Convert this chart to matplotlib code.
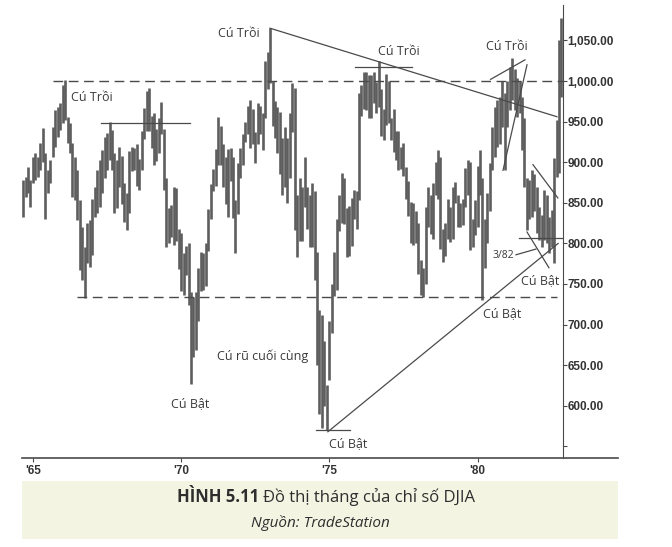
import numpy as np
import matplotlib.pyplot as plt
from matplotlib.patches import Rectangle

# monthly DJIA bars, Sep 1964 .. Nov 1982
start = 1964 + 8 / 12

highs_1964 = [878, 882, 894, 878]
lows_1964 = [833, 857, 862, 845]
highs_1965 = [906, 911, 906, 924, 942, 911, 890, 903, 943, 964, 968, 973]
lows_1965 = [874, 878, 882, 890, 900, 830, 862, 874, 906, 919, 931, 940]
highs_1966 = [995, 1001, 956, 948, 924, 906, 890, 853, 820, 796, 825, 829]
lows_1966 = [948, 952, 924, 911, 857, 853, 829, 767, 755, 733, 776, 771]
highs_1967 = [855, 869, 890, 903, 915, 931, 936, 950, 940, 911, 903, 919]
lows_1967 = [786, 833, 837, 845, 862, 880, 890, 903, 890, 837, 843, 869]
highs_1968 = [908, 874, 862, 914, 919, 917, 923, 904, 938, 967, 988, 991]
lows_1968 = [849, 826, 817, 838, 889, 891, 871, 866, 890, 929, 938, 938]
highs_1969 = [957, 960, 941, 955, 974, 941, 880, 844, 847, 870, 868, 818]
lows_1969 = [917, 897, 902, 911, 935, 866, 795, 800, 808, 798, 803, 769]
highs_1970 = [813, 788, 797, 801, 740, 734, 740, 770, 790, 788, 801, 842]
lows_1970 = [741, 737, 761, 724, 627, 660, 669, 705, 741, 742, 748, 791]
highs_1971 = [873, 892, 916, 956, 944, 923, 907, 916, 917, 907, 853, 899]
lows_1971 = [830, 865, 871, 897, 897, 869, 849, 833, 877, 831, 788, 836]
highs_1972 = [917, 935, 950, 969, 977, 966, 937, 973, 969, 961, 1025, 1036]
lows_1972 = [881, 896, 925, 935, 917, 923, 899, 922, 935, 915, 955, 990]
highs_1973 = [1065, 1000, 975, 968, 962, 930, 943, 930, 960, 997, 991, 860]
lows_1973 = [997, 944, 930, 911, 886, 859, 870, 850, 880, 937, 817, 783]
highs_1974 = [880, 870, 906, 870, 860, 874, 865, 790, 718, 712, 680, 625]
lows_1974 = [803, 803, 845, 818, 795, 795, 755, 650, 590, 573, 600, 570]
highs_1975 = [705, 750, 790, 830, 860, 887, 880, 843, 846, 856, 866, 864]
lows_1975 = [632, 690, 735, 742, 815, 825, 824, 783, 784, 797, 830, 818]
highs_1976 = [985, 995, 1011, 1011, 1008, 1008, 1011, 999, 1025, 990, 966, 1009]
lows_1976 = [853, 957, 965, 964, 955, 954, 973, 960, 968, 932, 927, 946]
highs_1977 = [1000, 955, 966, 938, 938, 919, 924, 894, 877, 851, 850, 840]
lows_1977 = [948, 927, 912, 903, 890, 892, 883, 855, 834, 800, 798, 800]
highs_1978 = [825, 780, 770, 845, 870, 860, 874, 900, 915, 907, 818, 825]
lows_1978 = [762, 737, 734, 750, 820, 812, 805, 860, 855, 793, 777, 785]
highs_1979 = [855, 845, 870, 875, 860, 850, 855, 893, 903, 900, 830, 853]
lows_1979 = [805, 802, 805, 850, 820, 820, 823, 845, 860, 792, 795, 810]
highs_1980 = [895, 915, 880, 830, 862, 899, 943, 968, 977, 980, 1000, 985]
lows_1980 = [820, 860, 730, 770, 800, 840, 890, 906, 919, 923, 943, 890]
highs_1981 = [1000, 1017, 1028, 1015, 1004, 1000, 980, 955, 880, 878, 890, 886]
lows_1981 = [943, 964, 977, 964, 956, 960, 915, 870, 817, 830, 833, 840]
highs_1982 = [870, 845, 835, 866, 860, 833, 841, 905, 952, 1050, 1077]
lows_1982 = [813, 804, 795, 804, 800, 788, 796, 776, 882, 887, 980]

highs = (highs_1964 + highs_1965 + highs_1966 + highs_1967 + highs_1968 + highs_1969
         + highs_1970 + highs_1971 + highs_1972 + highs_1973 + highs_1974 + highs_1975
         + highs_1976 + highs_1977 + highs_1978 + highs_1979 + highs_1980 + highs_1981
         + highs_1982)
lows = (lows_1964 + lows_1965 + lows_1966 + lows_1967 + lows_1968 + lows_1969
        + lows_1970 + lows_1971 + lows_1972 + lows_1973 + lows_1974 + lows_1975
        + lows_1976 + lows_1977 + lows_1978 + lows_1979 + lows_1980 + lows_1981
        + lows_1982)

year_ticks = [1965, 1970, 1975, 1980]
year_labels = ["'65", "'70", "'75", "'80"]
price_ticks = [550, 600, 650, 700, 750, 800, 850, 900, 950, 1000, 1050]

x = start + np.arange(len(highs)) / 12

ink = '#4a4a4a'
fig = plt.figure(figsize=(6.72, 5.47), dpi=100)
ax = fig.add_axes([22 / 672, 89 / 547, 596 / 672, 453 / 547])
ax.set_xlim(1964.63, 1984.74)
ax.set_ylim(535.7, 1093.6)

ax.vlines(x, lows, highs, color='#5e5e5e', lw=1.9)

# support / resistance levels
ax.plot([1965.67, 1982.88], [1000, 1000], color=ink, lw=1.0, dashes=(7, 4))
ax.plot([1966.48, 1982.68], [734, 734], color=ink, lw=1.0, dashes=(7, 4))
ax.plot([1967.29, 1970.30], [948, 948], color=ink, lw=0.9)
ax.plot([1975.86, 1977.79], [1017, 1017], color=ink, lw=0.9)
ax.plot([1974.55, 1975.70], [570, 570], color=ink, lw=0.9)
ax.plot([1981.40, 1982.85], [807, 807], color=ink, lw=0.9)

# trend lines
ax.plot([1973.0, 1982.68], [1065, 956], color=ink, lw=0.9)
ax.plot([1974.95, 1982.72], [568, 800], color=ink, lw=0.9)
ax.plot([1980.44, 1981.60], [1002, 1026], color=ink, lw=0.9)
ax.plot([1980.86, 1981.67], [890, 1020], color=ink, lw=0.9)
ax.plot([1981.87, 1982.71], [897, 856], color=ink, lw=0.9)
ax.plot([1981.67, 1982.41], [814, 770], color=ink, lw=0.9)
ax.plot([1981.30, 1981.97], [786, 793], color=ink, lw=0.9)

lab = dict(fontfamily='Open Sans', fontsize=9, color='#3a3a3a', ha='center', va='center')
ax.text(1971.95, 1058, 'Cú Trồi', **lab)
ax.text(1966.99, 980, 'Cú Trồi', **lab)
ax.text(1977.35, 1036, 'Cú Trồi', **lab)
ax.text(1980.99, 1042, 'Cú Trồi', **lab)
ax.text(1970.30, 603, 'Cú Bật', **lab)
ax.text(1972.76, 661, 'Cú rũ cuối cùng', **lab)
ax.text(1975.63, 553, 'Cú Bật', **lab)
ax.text(1980.82, 713, 'Cú Bật', **lab)
ax.text(1982.10, 754, 'Cú Bật', **lab)
ax.text(1980.86, 785, '3/82', fontfamily='Open Sans', fontsize=7.5, color='#3a3a3a',
        ha='center', va='center')

for s in ['top', 'left']:
    ax.spines[s].set_visible(False)
ax.spines['right'].set_position(('data', 1982.88))
ax.spines['right'].set_color(ink)
ax.spines['bottom'].set_color(ink)
ax.spines['bottom'].set_linewidth(1.2)

ax.yaxis.tick_right()
ax.set_yticks(price_ticks)
ax.set_yticklabels(['' if v == 550 else f'{v:,.2f}' for v in price_ticks],
                   fontfamily='Liberation Sans', fontweight='bold', fontsize=8.5, color='#333333')
ax.tick_params(axis='y', direction='out', length=3, pad=0.5, width=0.8, color=ink)

ax.set_xticks(year_ticks)
ax.set_xticklabels(year_labels, fontfamily='Liberation Sans', fontweight='bold',
                   fontsize=8.5, color='#333333')
ax.tick_params(axis='x', direction='out', length=3, pad=2, width=0.8, color=ink)

# caption panel
fig.patches.append(Rectangle((22 / 672, 8 / 547), 596 / 672, 58 / 547,
                             transform=fig.transFigure, facecolor='#f3f5e2',
                             edgecolor='none', zorder=0))
r = fig.canvas.get_renderer()
t1 = fig.text(177 / 672, 1 - 497 / 547, 'HÌNH 5.11', fontfamily='Open Sans',
              fontweight='bold', fontsize=12, color='#2e2e2e', va='center')
bb = t1.get_window_extent(renderer=r)
fig.text(bb.x1 / 672 + 4 / 672, 1 - 497 / 547, 'Đồ thị tháng của chỉ số DJIA',
         fontfamily='Open Sans', fontsize=12, color='#2e2e2e', va='center')
fig.text(320 / 672, 1 - 523 / 547, 'Nguồn: TradeStation', fontfamily='Open Sans',
         fontstyle='italic', fontsize=11, color='#2e2e2e', ha='center', va='center')

fig.savefig('out.png', dpi=100)
